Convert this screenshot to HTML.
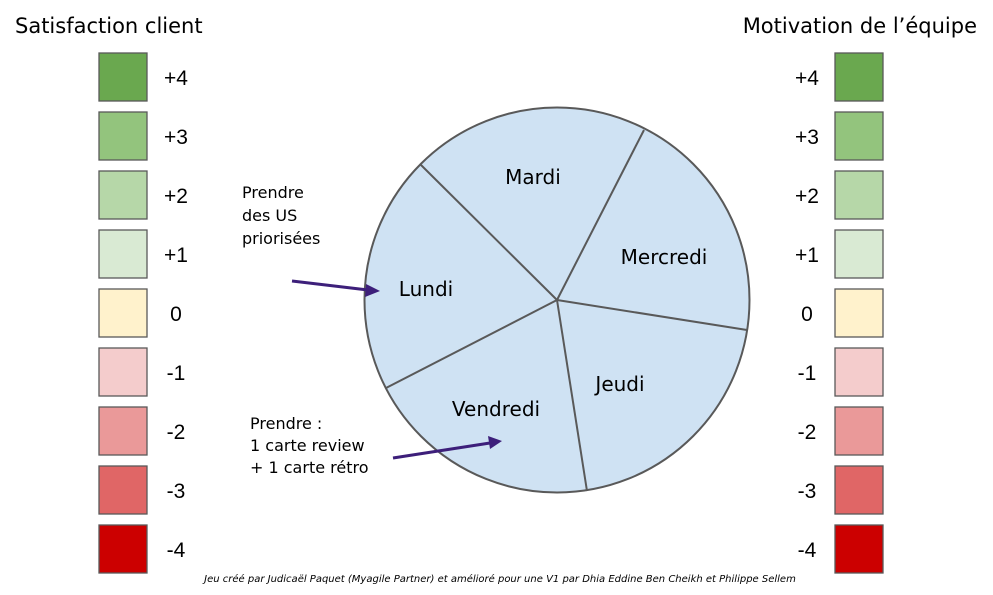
<!DOCTYPE html>
<html><head><style>
body{margin:0;width:993px;height:591px;background:#fff;overflow:hidden;font-family:"Comic Sans MS","DejaVu Sans","Liberation Sans",sans-serif}
</style></head><body>
<svg width="993" height="591" xmlns="http://www.w3.org/2000/svg" font-family="'Comic Sans MS','DejaVu Sans','Liberation Sans',sans-serif">
<text x="15" y="33" font-size="21">Satisfaction client</text>
<text x="977" y="33" font-size="21" text-anchor="end">Motivation de l’équipe</text>
<g stroke="#595959" stroke-width="1.3">
<rect x="99" y="53" width="48" height="48" fill="#6aa84f"/><rect x="835" y="53" width="48" height="48" fill="#6aa84f"/>
<rect x="99" y="112" width="48" height="48" fill="#93c47d"/><rect x="835" y="112" width="48" height="48" fill="#93c47d"/>
<rect x="99" y="171" width="48" height="48" fill="#b6d7a8"/><rect x="835" y="171" width="48" height="48" fill="#b6d7a8"/>
<rect x="99" y="230" width="48" height="48" fill="#d9ead3"/><rect x="835" y="230" width="48" height="48" fill="#d9ead3"/>
<rect x="99" y="289" width="48" height="48" fill="#fff2cc"/><rect x="835" y="289" width="48" height="48" fill="#fff2cc"/>
<rect x="99" y="348" width="48" height="48" fill="#f4cccc"/><rect x="835" y="348" width="48" height="48" fill="#f4cccc"/>
<rect x="99" y="407" width="48" height="48" fill="#ea9999"/><rect x="835" y="407" width="48" height="48" fill="#ea9999"/>
<rect x="99" y="466" width="48" height="48" fill="#e06666"/><rect x="835" y="466" width="48" height="48" fill="#e06666"/>
<rect x="99" y="525" width="48" height="48" fill="#cc0000"/><rect x="835" y="525" width="48" height="48" fill="#cc0000"/>
</g>
<g font-family="'Liberation Sans',sans-serif" font-size="21" text-anchor="middle">
<text x="176" y="85">+4</text><text x="807" y="85">+4</text>
<text x="176" y="144">+3</text><text x="807" y="144">+3</text>
<text x="176" y="203">+2</text><text x="807" y="203">+2</text>
<text x="176" y="262">+1</text><text x="807" y="262">+1</text>
<text x="176" y="321">0</text><text x="807" y="321">0</text>
<text x="176" y="380">-1</text><text x="807" y="380">-1</text>
<text x="176" y="439">-2</text><text x="807" y="439">-2</text>
<text x="176" y="498">-3</text><text x="807" y="498">-3</text>
<text x="176" y="557">-4</text><text x="807" y="557">-4</text>
</g>
<circle cx="557" cy="300" r="192.5" fill="#cfe2f3" stroke="#595959" stroke-width="2"/>
<g stroke="#595959" stroke-width="2">
<line x1="557" y1="300" x2="421" y2="165"/>
<line x1="557" y1="300" x2="644" y2="130"/>
<line x1="557" y1="300" x2="747" y2="330"/>
<line x1="557" y1="300" x2="587" y2="491"/>
<line x1="557" y1="300" x2="386" y2="388"/>
</g>
<g font-size="20" text-anchor="middle">
<text x="533" y="184">Mardi</text>
<text x="664" y="264">Mercredi</text>
<text x="426" y="296">Lundi</text>
<text x="620" y="391">Jeudi</text>
<text x="496" y="416">Vendredi</text>
</g>
<g font-size="16">
<text x="242" y="198">Prendre</text>
<text x="242" y="221">des US</text>
<text x="242" y="244">priorisées</text>
<text x="250" y="429">Prendre :</text>
<text x="250" y="451">1 carte review</text>
<text x="250" y="473">+ 1 carte rétro</text>
</g>
<g stroke="#3d1f7a" stroke-width="3" fill="#3d1f7a">
<line x1="292" y1="281" x2="368" y2="290"/>
<polygon points="380,291 366,284 365,297" stroke="none"/>
<line x1="393" y1="458" x2="490" y2="443"/>
<polygon points="502,441 488,436 490,449" stroke="none"/>
</g>
<text x="500" y="582" font-size="10" font-style="italic" text-anchor="middle">Jeu créé par Judicaël Paquet (Myagile Partner) et amélioré pour une V1 par Dhia Eddine Ben Cheikh et Philippe Sellem</text>
</svg>
</body></html>
